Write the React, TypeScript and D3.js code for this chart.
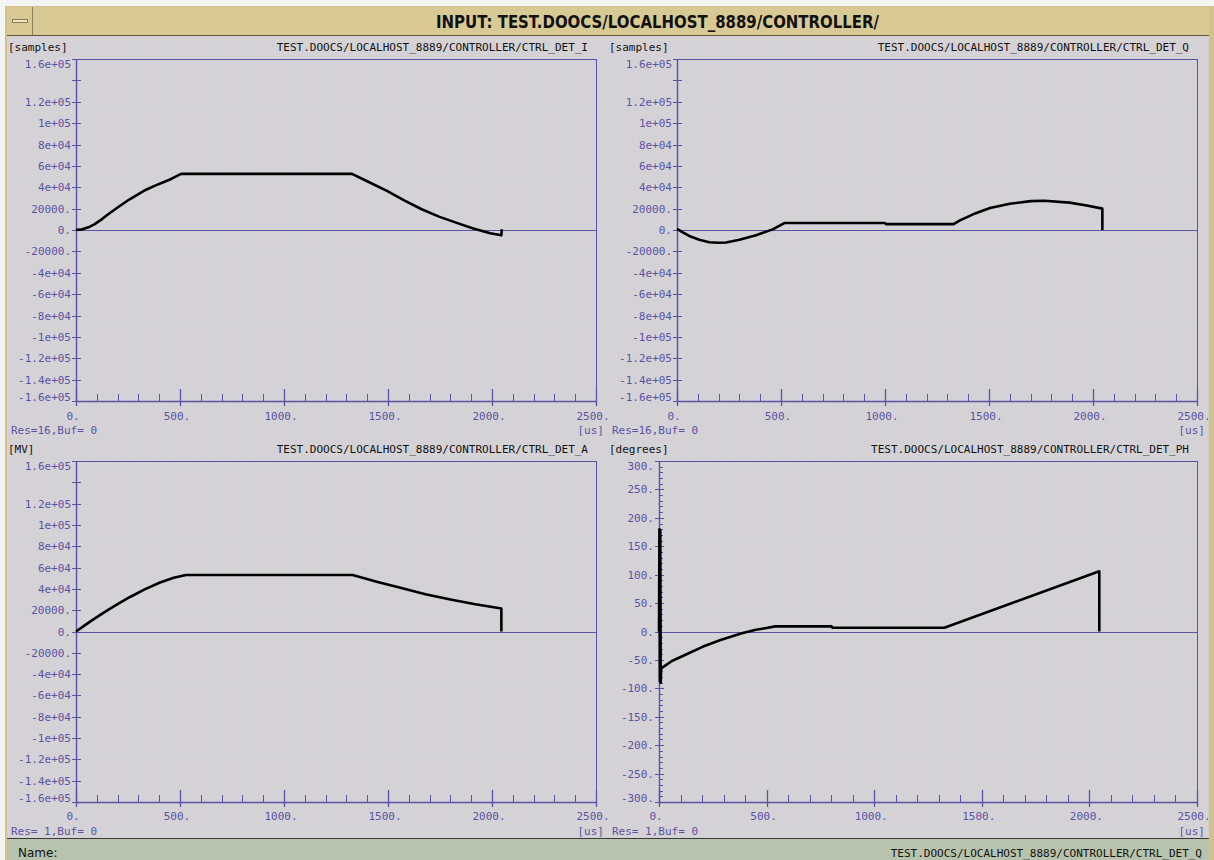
import React from "react";
import * as d3 from "d3";

// window + panel layout
const W = 1214;
const H = 860;
const AXIS = "#5a52a5";
const MONO = "'DejaVu Sans Mono', monospace";

const xTicks = [0, 500, 1000, 1500, 2000, 2500];
const xTickLabels = ["0.", "500.", "1000.", "1500.", "2000.", "2500."];

const sampleTicks = [
  160000, 140000, 120000, 100000, 80000, 60000, 40000, 20000, 0,
  -20000, -40000, -60000, -80000, -100000, -120000, -140000, -160000,
];
const sampleTickLabels = [
  "1.6e+05", "", "1.2e+05", "1e+05", "8e+04", "6e+04", "4e+04", "20000.", "0.",
  "-20000.", "-4e+04", "-6e+04", "-8e+04", "-1e+05", "-1.2e+05", "-1.4e+05", "-1.6e+05",
];

const degreeTicks = [300, 250, 200, 150, 100, 50, 0, -50, -100, -150, -200, -250, -300];
const degreeTickLabels = [
  "300.", "250.", "200.", "150.", "100.", "50.", "0.",
  "-50.", "-100.", "-150.", "-200.", "-250.", "-300.",
];

// [time us, value]
const detI: [number, number][] = [
  [0, 0], [30, 600], [60, 2500], [88, 5300], [120, 9500], [150, 14000], [200, 21000],
  [254, 28300], [300, 33500], [337, 37700], [380, 41500], [420, 44700], [460, 48000],
  [505, 52500], [1327, 52500], [1400, 45600], [1495, 36600], [1580, 27500], [1662, 19400],
  [1745, 12500], [1827, 6900], [1910, 1500], [1992, -3100], [2045, -5000], [2047, 700],
];

const detQ: [number, number][] = [
  [0, 1000], [30, -2500], [59, -5600], [107, -9200], [155, -11400], [200, -11900],
  [236, -11700], [300, -9200], [380, -4900], [460, 600], [516, 6500], [1000, 6500],
  [1005, 5500], [1330, 5500], [1360, 9000], [1400, 12500], [1433, 15500], [1505, 20500],
  [1600, 24500], [1700, 27000], [1767, 27400], [1887, 25600], [1970, 23000],
  [2045, 20000], [2045, 0],
];

const detA: [number, number][] = [
  [0, 0], [40, 5500], [80, 10900], [115, 15400], [160, 21000], [210, 26900], [260, 32400],
  [330, 39500], [404, 46000], [470, 50500], [529, 53000], [1330, 53000], [1450, 46500],
  [1560, 41000], [1680, 35000], [1800, 30000], [1920, 25500], [2045, 21500], [2045, 0],
];

const detPh: [number, number][] = [
  [0, 0], [2, 180], [4, -88], [6, 178], [8, -90], [10, -65], [60, -52], [123, -41],
  [205, -26.5], [286, -15], [385, -3], [450, 3], [499, 6], [540, 9], [802, 9], [806, 6.5],
  [1326, 6.5], [2046, 106], [2046, 0],
];

type PanelCfg = {
  left: number;
  axisX: number;
  right: number;
  top: number;
  bottom: number;
  headerY: number;
  labelY: number;
  resY: number;
  unit: string;
  title: string;
  res: string;
  domain: [number, number];
  ticks: number[];
  tickLabels: string[];
  minorStep: number;
  data: [number, number][];
};

const panels: PanelCfg[] = [
  {
    left: 8, axisX: 76, right: 596, top: 59, bottom: 401, headerY: 51, labelY: 420, resY: 434,
    unit: "[samples]", title: "TEST.DOOCS/LOCALHOST_8889/CONTROLLER/CTRL_DET_I",
    res: "Res=16,Buf= 0", domain: [-160000, 160000], ticks: sampleTicks,
    tickLabels: sampleTickLabels, minorStep: 0, data: detI,
  },
  {
    left: 609, axisX: 677, right: 1197, top: 59, bottom: 401, headerY: 51, labelY: 420, resY: 434,
    unit: "[samples]", title: "TEST.DOOCS/LOCALHOST_8889/CONTROLLER/CTRL_DET_Q",
    res: "Res=16,Buf= 0", domain: [-160000, 160000], ticks: sampleTicks,
    tickLabels: sampleTickLabels, minorStep: 0, data: detQ,
  },
  {
    left: 8, axisX: 76, right: 596, top: 461, bottom: 802, headerY: 453, labelY: 820, resY: 835,
    unit: "[MV]", title: "TEST.DOOCS/LOCALHOST_8889/CONTROLLER/CTRL_DET_A",
    res: "Res= 1,Buf= 0", domain: [-160000, 160000], ticks: sampleTicks,
    tickLabels: sampleTickLabels, minorStep: 0, data: detA,
  },
  {
    left: 609, axisX: 659, right: 1197, top: 461, bottom: 802, headerY: 453, labelY: 820, resY: 835,
    unit: "[degrees]", title: "TEST.DOOCS/LOCALHOST_8889/CONTROLLER/CTRL_DET_PH",
    res: "Res= 1,Buf= 0", domain: [-300, 300], ticks: degreeTicks,
    tickLabels: degreeTickLabels, minorStep: 10, data: detPh,
  },
];

function Panel({ c }: { c: PanelCfg }) {
  const x = d3.scaleLinear().domain([0, 2500]).range([c.axisX, c.right]);
  const y = d3.scaleLinear().domain(c.domain).range([c.bottom, c.top]);
  const line = d3
    .line<[number, number]>()
    .x((d) => x(d[0]))
    .y((d) => y(d[1]));

  const xMinor = d3.range(0, 2501, 100).filter((v) => v % 500 !== 0);
  const yMinor =
    c.minorStep > 0
      ? d3.range(c.domain[0], c.domain[1] + 1, c.minorStep).filter((v) => v % 50 !== 0)
      : [];

  return (
    <g>
      <text x={c.left} y={c.headerY} fontFamily={MONO} fontSize={11} fill="#111">
        {c.unit}
      </text>
      <text x={c.right - 8} y={c.headerY} fontFamily={MONO} fontSize={11} fill="#111" textAnchor="end">
        {c.title}
      </text>

      {/* frame */}
      <line x1={c.axisX} x2={c.right} y1={c.top + 0.5} y2={c.top + 0.5} stroke={AXIS} />
      <line x1={c.right + 0.5} x2={c.right + 0.5} y1={c.top} y2={c.bottom} stroke={AXIS} />
      <line x1={c.axisX} x2={c.right} y1={c.bottom + 0.5} y2={c.bottom + 0.5} stroke={AXIS} strokeWidth={1.3} />
      <line x1={c.axisX + 0.5} x2={c.axisX + 0.5} y1={c.top} y2={c.bottom} stroke={AXIS} strokeWidth={1.4} />
      <line x1={c.axisX} x2={c.right} y1={Math.round(y(0)) + 0.5} y2={Math.round(y(0)) + 0.5} stroke={AXIS} />

      {/* y ticks */}
      {c.ticks.map((v, i) => {
        const ty = Math.round(y(v)) + 0.5;
        const cy = Math.min(Math.max(y(v), c.top + 4.5), c.bottom - 4.5);
        return (
          <g key={"y" + v}>
            <line x1={c.axisX - 4} x2={c.axisX + 5} y1={ty} y2={ty} stroke={AXIS} />
            {c.tickLabels[i] && (
              <text x={c.axisX - 5} y={cy + 4} fontFamily={MONO} fontSize={11} fill={AXIS} textAnchor="end">
                {c.tickLabels[i]}
              </text>
            )}
          </g>
        );
      })}
      {yMinor.map((v) => (
        <line key={"ym" + v} x1={c.axisX} x2={c.axisX + 4} y1={Math.round(y(v)) + 0.5} y2={Math.round(y(v)) + 0.5} stroke={AXIS} />
      ))}

      {/* x ticks */}
      {xTicks.map((v, i) => (
        <g key={"x" + v}>
          <line x1={Math.round(x(v)) + 0.5} x2={Math.round(x(v)) + 0.5} y1={c.bottom - 12} y2={c.bottom + 5} stroke={AXIS} strokeWidth={1.3} />
          <text x={x(v) - 3} y={c.labelY} fontFamily={MONO} fontSize={11} fill={AXIS} textAnchor="middle">
            {xTickLabels[i]}
          </text>
        </g>
      ))}
      {xMinor.map((v) => (
        <line key={"xm" + v} x1={Math.round(x(v)) + 0.5} x2={Math.round(x(v)) + 0.5} y1={c.bottom - 7} y2={c.bottom} stroke={AXIS} />
      ))}

      <text x={c.right + 8} y={c.resY} fontFamily={MONO} fontSize={11} fill={AXIS} textAnchor="end">
        [us]
      </text>
      <text x={c.left + 3} y={c.resY} fontFamily={MONO} fontSize={11} fill={AXIS}>
        {c.res}
      </text>

      <path d={line(c.data) || ""} fill="none" stroke="#000" strokeWidth={2.6} strokeLinejoin="round" />
    </g>
  );
}

export default function App() {
  return (
    <svg
      width={W}
      height={H}
      style={{ position: "absolute", left: 0, top: 0 }}
      xmlns="http://www.w3.org/2000/svg"
    >
      <defs>
        <pattern id="dots" width={5} height={9} patternUnits="userSpaceOnUse">
          <rect x={1} y={4} width={1} height={1} fill="#dfddc2" />
        </pattern>
      </defs>
      <rect width={W} height={H} fill="#f4f4f4" />
      {/* window frame */}
      <rect x={5} y={6} width={W - 5} height={H - 6} fill="#d2c28a" />
      <rect x={7} y={7} width={1202} height={28} fill="#d9ca95" />
      <line x1={7} x2={1209} y1={35.5} y2={35.5} stroke="#5e5638" />
      <line x1={32.5} x2={32.5} y1={7} y2={35} stroke="#8c8058" />
      <rect x={12.5} y={19.5} width={15} height={3} fill="#efe7c9" stroke="#8a7d50" />
      <text
        x={436}
        y={28}
        fontFamily="'DejaVu Sans', sans-serif"
        fontSize={17}
        fontWeight="bold"
        fill="#111"
        textLength={443}
        lengthAdjust="spacingAndGlyphs"
      >
        INPUT: TEST.DOOCS/LOCALHOST_8889/CONTROLLER/
      </text>

      {/* content */}
      <rect x={7} y={36} width={1202} height={802} fill="#d4d2d6" />
      <rect x={7} y={36} width={1202} height={802} fill="url(#dots)" />
      {panels.map((p) => (
        <Panel key={p.title} c={p} />
      ))}

      {/* status bar */}
      <rect x={7} y={838} width={1202} height={22} fill="#b8c3ad" />
      <line x1={7} x2={1209} y1={838.5} y2={838.5} stroke="#3a3a3a" />
      <text x={18} y={857} fontFamily="'DejaVu Sans', sans-serif" fontSize={12} fill="#111">
        Name:
      </text>
      <text x={1202} y={857} fontFamily={MONO} fontSize={11} fill="#111" textAnchor="end">
        TEST.DOOCS/LOCALHOST_8889/CONTROLLER/CTRL_DET_Q
      </text>
    </svg>
  );
}
